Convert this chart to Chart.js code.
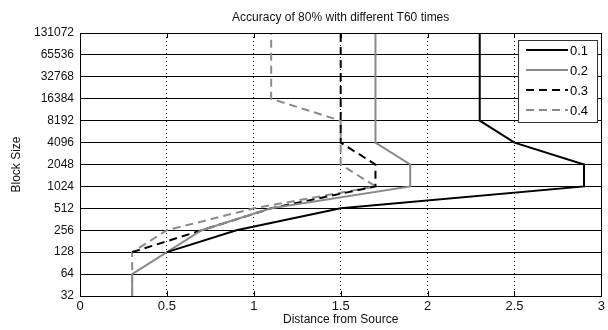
<!DOCTYPE html>
<html>
<head>
<meta charset="utf-8">
<script src="https://cdn.jsdelivr.net/npm/chart.js@4/dist/chart.umd.min.js"></script>
<style>
  html, body { margin: 0; padding: 0; background: #fff; }
  #wrap { width: 608px; height: 330px; }
</style>
</head>
<body>
<div id="wrap"><canvas id="c" width="608" height="330"></canvas></div>
<script>
// ---- Data ----
const seriesLabels = ['0.1', '0.2', '0.3', '0.4'];
const yTickValues = [32, 64, 128, 256, 512, 1024, 2048, 4096, 8192, 16384, 32768, 65536, 131072];
const xTickValues = [0, 0.5, 1, 1.5, 2, 2.5, 3];

const s1Block = [128, 256, 512, 1024, 2048, 4096, 8192, 16384, 32768, 65536, 131072];
const s1Dist  = [0.5, 0.9, 1.5, 2.9, 2.9, 2.5, 2.3, 2.3, 2.3, 2.3, 2.3];

const s2Block = [32, 64, 128, 256, 512, 1024, 2048, 4096, 8192, 16384, 32768, 65536, 131072];
const s2Dist  = [0.3, 0.3, 0.5, 0.7, 1.1, 1.9, 1.9, 1.7, 1.7, 1.7, 1.7, 1.7, 1.7];

const s3Block = [128, 256, 512, 1024, 2048, 4096, 8192, 16384, 32768, 65536, 131072];
const s3Dist  = [0.3, 0.7, 1.1, 1.7, 1.7, 1.5, 1.5, 1.5, 1.5, 1.5, 1.5];

const s4Block = [32, 64, 128, 256, 512, 1024, 2048, 4096, 8192, 16384, 32768, 65536, 131072];
const s4Dist  = [0.3, 0.3, 0.3, 0.5, 1.0, 1.7, 1.5, 1.5, 1.5, 1.1, 1.1, 1.1, 1.1];

const FONT = '"Liberation Sans", Arial, sans-serif';
const GRAY = '#8a8a8a';

function pts(xs, ys) { return xs.map((x, i) => ({ x: x, y: ys[i] })); }

const styles = [
  { color: '#000000', dash: [] },
  { color: GRAY, dash: [] },
  { color: '#000000', dash: [8, 5] },
  { color: GRAY, dash: [8, 5] }
];
const allDist = [s1Dist, s2Dist, s3Dist, s4Dist];
const allBlock = [s1Block, s2Block, s3Block, s4Block];

const datasets = seriesLabels.map((lab, i) => ({
  label: lab,
  data: pts(allDist[i], allBlock[i]),
  showLine: true,
  borderColor: styles[i].color,
  backgroundColor: styles[i].color,
  borderWidth: 2,
  borderDash: styles[i].dash,
  pointRadius: 0,
  pointHoverRadius: 0,
  tension: 0,
  fill: false
}));

// Plot box, inner tick marks and in-plot legend
const decorPlugin = {
  id: 'decor',
  afterDatasetsDraw(chart) {
    const ctx = chart.ctx;
    const a = chart.chartArea;
    const xs = chart.scales.x;
    ctx.save();
    ctx.strokeStyle = '#000';
    ctx.lineWidth = 1;
    ctx.setLineDash([]);
    ctx.strokeRect(Math.round(a.left) + 0.5, Math.round(a.top) + 0.5,
                   Math.round(a.right - a.left), Math.round(a.bottom - a.top));
    // inner x ticks (bottom and top)
    ctx.beginPath();
    xTickValues.forEach(v => {
      const px = Math.round(xs.getPixelForValue(v)) + 0.5;
      ctx.moveTo(px, a.bottom); ctx.lineTo(px, a.bottom - 5);
      ctx.moveTo(px, a.top); ctx.lineTo(px, a.top + 5);
    });
    ctx.stroke();

    // legend box
    const bx = 518, by = 40, bw = 79, bh = 82;
    ctx.fillStyle = '#fff';
    ctx.fillRect(bx, by, bw, bh);
    ctx.strokeStyle = '#333';
    ctx.strokeRect(bx + 0.5, by + 0.5, bw, bh);
    ctx.font = '13px ' + FONT;
    ctx.textBaseline = 'middle';
    ctx.textAlign = 'left';
    const rows = [50, 70, 90, 110];
    chart.data.datasets.forEach((ds, i) => {
      const y = rows[i];
      ctx.beginPath();
      ctx.setLineDash(ds.borderDash || []);
      ctx.strokeStyle = ds.borderColor;
      ctx.lineWidth = 2;
      ctx.moveTo(526, y); ctx.lineTo(568, y);
      ctx.stroke();
      ctx.setLineDash([]);
      ctx.fillStyle = '#000';
      ctx.fillText(ds.label, 570, y + 1);
    });
    ctx.restore();
  }
};

new Chart(document.getElementById('c'), {
  type: 'scatter',
  data: { datasets: datasets },
  plugins: [decorPlugin],
  options: {
    responsive: false,
    animation: false,
    events: [],
    layout: { padding: { top: 0, right: 4, bottom: 0, left: 0 } },
    plugins: {
      legend: { display: false },
      tooltip: { enabled: false },
      title: {
        display: true,
        text: 'Accuracy of 80% with different T60 times',
        fullSize: false,
        color: '#111',
        font: { family: FONT, size: 12, weight: 'normal', lineHeight: 1.2 },
        padding: { top: 10, bottom: 8.6 }
      }
    },
    scales: {
      x: {
        type: 'linear',
        min: 0,
        max: 3,
        afterBuildTicks: s => { s.ticks = xTickValues.map(v => ({ value: v })); },
        afterFit: s => { s.height = 34; },
        ticks: {
          autoSkip: false,
          maxRotation: 0,
          padding: 3,
          color: '#111',
          font: { family: FONT, size: 13 },
          callback: v => String(v)
        },
        grid: { color: '#000', lineWidth: 1, drawTicks: false },
        border: { display: true, color: '#000', width: 1, dash: [1, 3] },
        title: {
          display: true,
          text: 'Distance from Source',
          color: '#111',
          font: { family: FONT, size: 12, lineHeight: 1.2 },
          padding: { top: 0, bottom: 3 }
        }
      },
      y: {
        type: 'logarithmic',
        min: 32,
        max: 131072,
        afterBuildTicks: s => { s.ticks = yTickValues.map(v => ({ value: v })); },
        afterFit: s => { s.width = 80; },
        ticks: {
          autoSkip: false,
          padding: 6,
          color: '#111',
          font: { family: FONT, size: 12 },
          callback: v => String(v)
        },
        grid: { color: '#000', lineWidth: 1, drawTicks: false },
        border: { display: true, color: '#000', width: 1 },
        title: {
          display: true,
          text: 'Block Size',
          color: '#111',
          font: { family: FONT, size: 12, lineHeight: 1.2 },
          padding: { top: 9, bottom: 0 }
        }
      }
    }
  }
});
</script>
</body>
</html>
